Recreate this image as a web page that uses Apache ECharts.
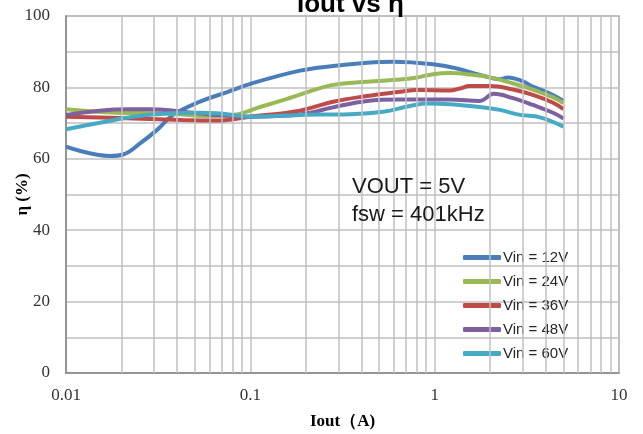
<!DOCTYPE html>
<html>
<head>
<meta charset="utf-8">
<script src="https://cdn.jsdelivr.net/npm/echarts@6/dist/echarts.min.js"></script>
<style>
  html, body { margin: 0; padding: 0; background: #fff; }
  #root { width: 643px; height: 434px; }
</style>
</head>
<body>
<div id="root"></div>
<script>
// Iout (A) / efficiency (%), one pair of arrays per Vin
var iout12 = [0.01, 0.0173, 0.0204, 0.0252, 0.0312, 0.0381, 0.0533, 0.075, 0.1, 0.186, 0.281, 0.43, 0.594, 0.98, 1.32, 1.76, 2.26, 2.5, 3.01, 3.41, 4.22, 5];
var eff12  = [63.4, 60.8, 61.2, 64.3, 68.1, 72.3, 76.0, 78.7, 81.0, 84.7, 86.0, 86.9, 87.2, 86.5, 85.3, 83.5, 82.3, 82.8, 81.7, 80.2, 78.3, 76.2];

var iout24 = [0.01, 0.0189, 0.0353, 0.0582, 0.0805, 0.113, 0.158, 0.186, 0.281, 0.43, 0.649, 0.802, 0.98, 1.21, 1.49, 2.0, 2.66, 3.41, 4.39, 5];
var eff24  = [73.9, 72.9, 72.7, 72.0, 72.3, 74.5, 76.8, 78.0, 80.7, 81.6, 82.2, 82.8, 83.7, 84.0, 83.7, 82.8, 81.1, 79.4, 77.2, 75.6];

var iout36 = [0.01, 0.0231, 0.0431, 0.066, 0.0996, 0.186, 0.281, 0.43, 0.649, 0.802, 1.21, 1.37, 1.55, 2.0, 2.66, 3.41, 4.39, 5];
var eff36  = [71.8, 71.3, 70.9, 70.7, 71.8, 73.5, 76.0, 77.6, 78.8, 79.3, 79.1, 79.7, 80.4, 80.4, 79.4, 77.9, 75.7, 73.9];

var iout48 = [0.01, 0.0214, 0.0286, 0.0431, 0.066, 0.0996, 0.186, 0.281, 0.43, 0.649, 1.21, 1.76, 2.09, 2.66, 3.41, 4.39, 5];
var eff48  = [72.3, 73.9, 73.9, 73.2, 72.3, 71.8, 72.4, 74.4, 76.2, 76.6, 76.6, 76.2, 78.2, 77.0, 75.1, 72.9, 71.3];

var iout60 = [0.01, 0.0153, 0.0231, 0.0353, 0.0533, 0.0747, 0.0996, 0.186, 0.347, 0.525, 0.735, 0.908, 1.21, 1.83, 2.26, 2.9, 3.73, 5];
var eff60  = [68.3, 70.1, 71.8, 72.7, 72.9, 72.5, 71.8, 72.3, 72.5, 73.2, 74.8, 75.5, 75.3, 74.4, 73.7, 72.3, 71.6, 69.0];

var seriesNames = ['Vin = 12V', 'Vin = 24V', 'Vin = 36V', 'Vin = 48V', 'Vin = 60V'];
var seriesColors = ['#4a7ebb', '#98b954', '#be4b48', '#7d60a0', '#46aac5'];

// minor log grid lines (2..9 in each decade)
var minorX = [0.02, 0.03, 0.04, 0.05, 0.06, 0.07, 0.08, 0.09,
              0.2, 0.3, 0.4, 0.5, 0.6, 0.7, 0.8, 0.9,
              2, 3, 4, 5, 6, 7, 8, 9];

var xs = [iout12, iout24, iout36, iout48, iout60];
var ys = [eff12, eff24, eff36, eff48, eff60];

var chart = echarts.init(document.getElementById('root'));

var series = [{
  name: 'grid',
  type: 'line',
  data: [],
  z: 1,
  silent: true,
  markLine: {
    silent: true,
    symbol: ['none', 'none'],
    label: { show: false },
    animation: false,
    lineStyle: { color: '#c0c0c0', width: 1.5, type: 'solid' },
    data: minorX.map(function (v) { return { xAxis: v }; })
  }
}];

seriesNames.forEach(function (name, i) {
  series.push({
    name: name,
    type: 'line',
    smooth: 0.4,
    showSymbol: false,
    z: 3,
    lineStyle: { width: 4, color: seriesColors[i] },
    itemStyle: { color: seriesColors[i] },
    data: xs[i].map(function (x, k) { return [x, ys[i][k]]; })
  });
});

var option = {
  animation: false,
  title: {
    text: 'Iout vs η',
    left: 292,
    top: -13,
    textStyle: { fontFamily: 'Liberation Sans', fontSize: 26, fontWeight: 'bold', color: '#000' }
  },
  grid: {
    left: 66, right: 24, top: 16, bottom: 61,
    outerBoundsMode: 'none',
    containLabel: false,
    show: true, borderColor: '#a6a6a6', borderWidth: 1.5
  },
  legend: {
    data: seriesNames,
    orient: 'vertical',
    left: 458,
    top: 245,
    itemWidth: 38,
    itemHeight: 5,
    itemGap: 9,
    icon: 'roundRect',
    textStyle: { fontFamily: 'Liberation Sans', fontSize: 15, color: '#262626', padding: [0, 0, 0, -3] }
  },
  xAxis: {
    type: 'log',
    logBase: 10,
    min: 0.01,
    max: 10,
    name: 'Iout（A)',
    nameLocation: 'middle',
    nameGap: 40,
    nameMoveOverlap: false,
    nameTextStyle: { fontFamily: 'Liberation Serif', fontSize: 17, fontWeight: 'bold', color: '#000' },
    axisLine: { lineStyle: { color: '#868686', width: 1.5 } },
    axisTick: { show: false },
    axisLabel: { fontFamily: 'Liberation Serif', fontSize: 17, color: '#333', margin: 14 },
    splitLine: { show: true, lineStyle: { color: '#c0c0c0', width: 1.5 } }
  },
  yAxis: {
    type: 'value',
    min: 0,
    max: 100,
    interval: 20,
    name: 'η (%)',
    nameLocation: 'middle',
    nameGap: 35,
    nameMoveOverlap: false,
    nameTextStyle: { fontFamily: 'Liberation Serif', fontSize: 17, fontWeight: 'bold', color: '#000' },
    axisLine: { show: true, lineStyle: { color: '#868686', width: 1.5 } },
    axisTick: { show: false },
    axisLabel: { fontFamily: 'Liberation Serif', fontSize: 17, color: '#333', margin: 16 },
    splitLine: { show: true, lineStyle: { color: '#c0c0c0', width: 1.5 } },
    minorTick: { show: false, splitNumber: 2 },
    minorSplitLine: { show: true, lineStyle: { color: '#c0c0c0', width: 1.5 } }
  },
  graphic: [
    {
      type: 'text', left: 352, top: 176, z: 10,
      style: { text: 'VOUT = 5V', fill: '#1a1a1a', font: '22px "Liberation Sans"' }
    },
    {
      type: 'text', left: 352, top: 204, z: 10,
      style: { text: 'fsw = 401kHz', fill: '#1a1a1a', font: '22px "Liberation Sans"' }
    }
  ],
  series: series
};

chart.setOption(option);
</script>
</body>
</html>
